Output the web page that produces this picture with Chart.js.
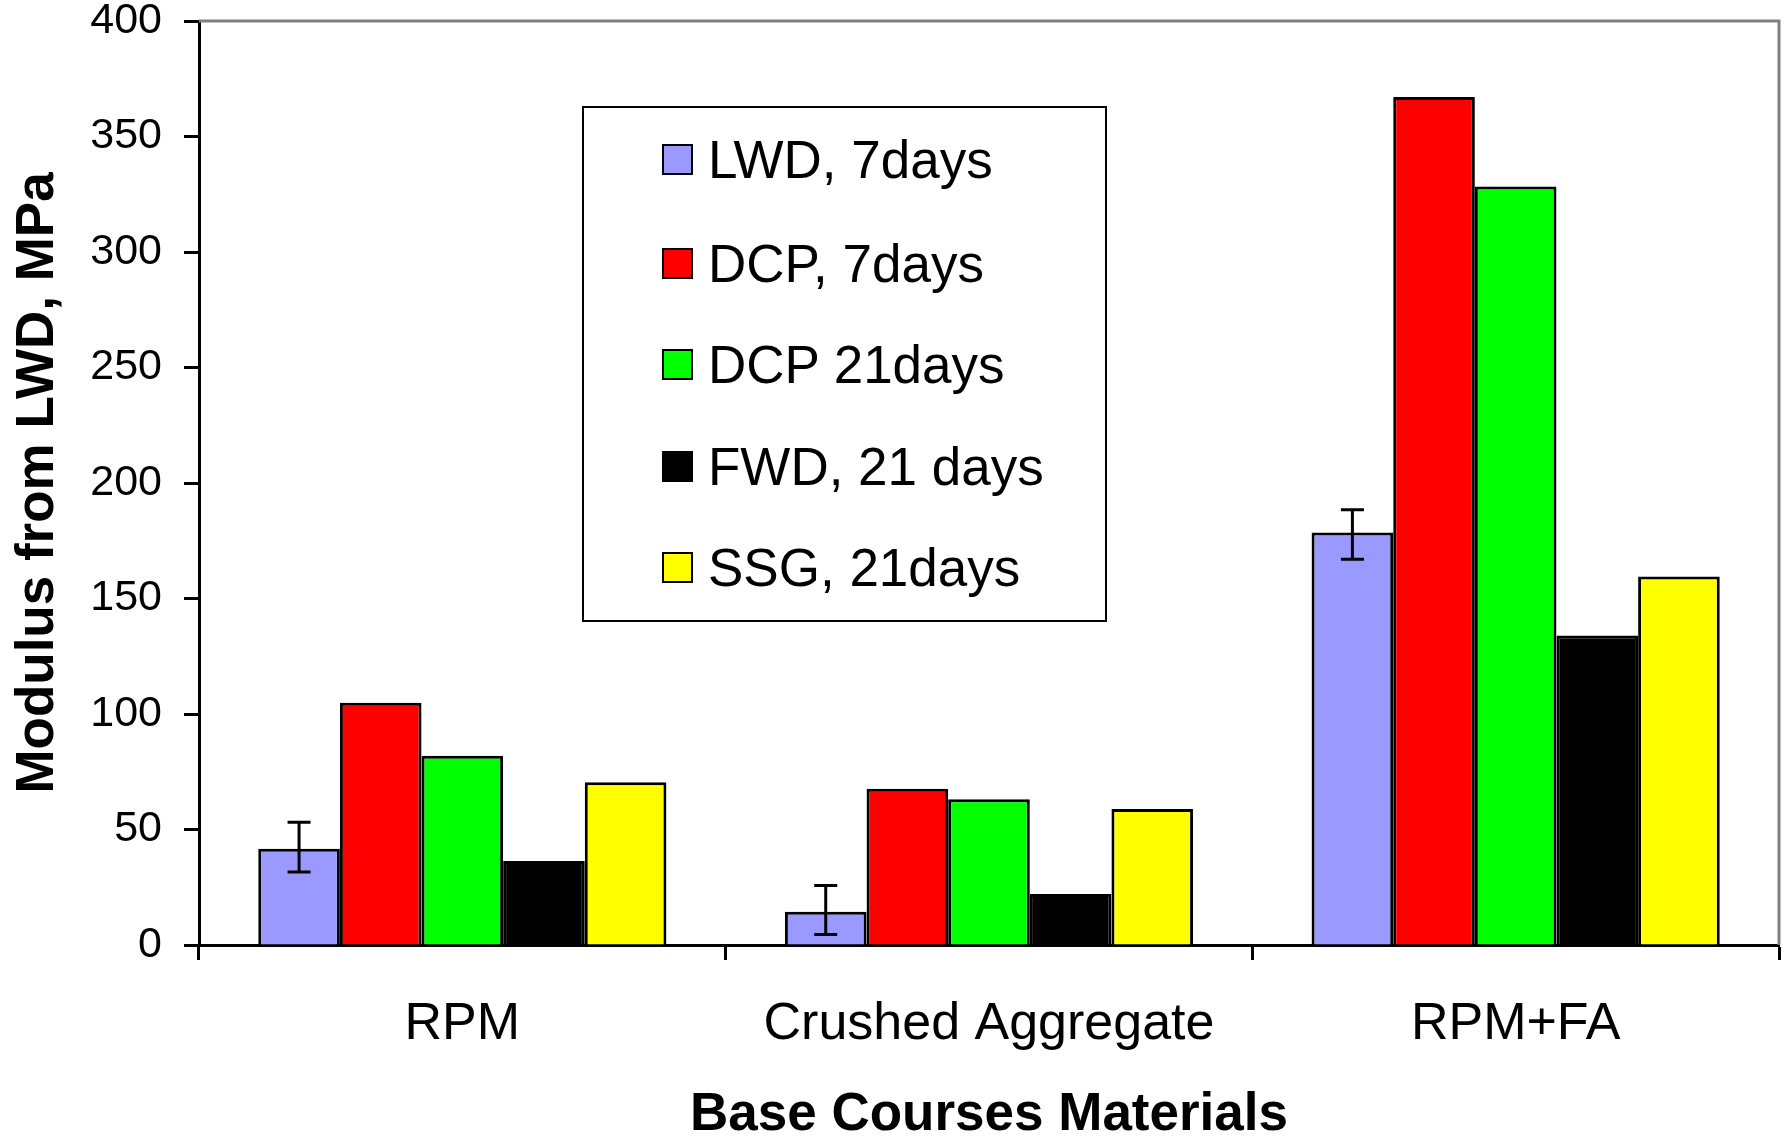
<!DOCTYPE html>
<html>
<head>
<meta charset="utf-8">
<script src="https://cdn.jsdelivr.net/npm/chart.js@4/dist/chart.umd.min.js"></script>
<style>
  html, body { margin: 0; padding: 0; background: #fff; }
  #wrap { position: relative; width: 1789px; height: 1136px; }
  #legend {
    position: absolute; left: 582px; top: 106px; width: 521px; height: 512px;
    border: 2px solid #000; background: #fff; box-sizing: content-box;
    font-family: "Liberation Sans", Arial, sans-serif; font-size: 53px; color: #000;
  }
  .item { position: absolute; left: 78px; height: 60px; display: flex; align-items: center; white-space: nowrap; }
  .sw { width: 27px; height: 27px; border: 2px solid #000; margin-right: 15px; }
</style>
</head>
<body>
<div id="wrap">
  <canvas id="c" width="1789" height="1136"></canvas>
  <div id="legend"></div>
</div>
<script>
const categories = ['RPM', 'Crushed Aggregate', 'RPM+FA'];
const seriesNames = ['LWD, 7days', 'DCP, 7days', 'DCP 21days', 'FWD, 21 days', 'SSG, 21days'];
const lwd7 = [41.7, 14.4, 178.6];
const dcp7 = [104.9, 67.6, 367.1];
const dcp21 = [81.9, 63.1, 328.4];
const fwd21 = [36.4, 22.1, 134.0];
const ssg21 = [70.5, 58.9, 159.5];
const lwd7ErrLow = [31.6, 4.5, 167.0];
const lwd7ErrHigh = [53.1, 25.8, 188.4];
const yTickValues = [0, 50, 100, 150, 200, 250, 300, 350, 400];
const seriesColors = ['#9999FF', '#FF0000', '#00FF00', '#000000', '#FFFF00'];

const seriesValues = [lwd7, dcp7, dcp21, fwd21, ssg21];
const FONT = '"Liberation Sans", Arial, sans-serif';

const datasets = seriesValues.map((vals, i) => ({
  label: seriesNames[i],
  data: vals,
  backgroundColor: seriesColors[i],
  borderColor: '#000',
  borderWidth: 3,
  borderSkipped: 'start',
  barPercentage: 1.0,
  categoryPercentage: 0.775
}));

const frameBorder = {
  id: 'frameBorder',
  beforeDatasetsDraw(chart) {
    const {ctx, chartArea: a} = chart;
    ctx.save();
    ctx.strokeStyle = '#808080';
    ctx.lineWidth = 3;
    ctx.beginPath();
    ctx.moveTo(a.left, a.top);
    ctx.lineTo(a.right, a.top);
    ctx.lineTo(a.right, a.bottom);
    ctx.stroke();
    ctx.restore();
  }
};

const errorBars = {
  id: 'errorBars',
  afterDatasetsDraw(chart) {
    const {ctx} = chart;
    const meta = chart.getDatasetMeta(0);
    const ys = chart.scales.y;
    ctx.save();
    ctx.strokeStyle = '#000';
    ctx.lineWidth = 3;
    meta.data.forEach((bar, i) => {
      const x = bar.x;
      const yH = ys.getPixelForValue(lwd7ErrHigh[i]);
      const yL = ys.getPixelForValue(lwd7ErrLow[i]);
      const cw = 11.5;
      ctx.beginPath();
      ctx.moveTo(x, yH); ctx.lineTo(x, yL);
      ctx.moveTo(x - cw, yH); ctx.lineTo(x + cw, yH);
      ctx.moveTo(x - cw, yL); ctx.lineTo(x + cw, yL);
      ctx.stroke();
    });
    ctx.restore();
  }
};

new Chart(document.getElementById('c'), {
  type: 'bar',
  data: { labels: categories, datasets },
  options: {
    responsive: false,
    animation: false,
    layout: { padding: { top: 21, right: 10, left: 0, bottom: 0 } },
    plugins: { legend: { display: false }, tooltip: { enabled: false } },
    scales: {
      x: {
        z: 1,
        grid: { display: true, drawOnChartArea: false, drawTicks: true, tickLength: 15, tickWidth: 3, tickColor: '#000', offset: true },
        border: { display: true, color: '#000', width: 3 },
        ticks: { color: '#000', font: { family: FONT, size: 52, lineHeight: 1.2 }, padding: 33, maxRotation: 0 },
        title: { display: true, text: 'Base Courses Materials', color: '#000',
                 font: { family: FONT, size: 53, weight: 'bold', lineHeight: 1.0 }, padding: { top: 0, bottom: -6 } },
        afterFit(scale) { scale.height = 191; scale.paddingLeft = 0; scale.paddingRight = 0; }
      },
      y: {
        min: 0, max: 400,
        afterBuildTicks(scale) { scale.ticks = yTickValues.map(v => ({ value: v })); },
        grid: { display: true, drawOnChartArea: false, drawTicks: true, tickLength: 15, tickWidth: 3, tickColor: '#000' },
        border: { display: true, color: '#000', width: 3 },
        ticks: { color: '#000', font: { family: FONT, size: 43, lineHeight: 1.0 }, padding: 22 },
        title: { display: true, text: 'Modulus from LWD, MPa', color: '#000',
                 font: { family: FONT, size: 53, weight: 'bold', lineHeight: 1.0 }, padding: { top: 12, bottom: 0 } },
        afterFit(scale) { scale.width = 199; scale.paddingTop = 0; scale.paddingBottom = 0; }
      }
    }
  },
  plugins: [frameBorder, errorBars]
});

// HTML legend built from the series arrays
const legend = document.getElementById('legend');
const rowCenters = [51, 155, 256, 358, 459];
seriesNames.forEach((name, i) => {
  const item = document.createElement('div');
  item.className = 'item';
  item.style.top = (rowCenters[i] - 30) + 'px';
  const sw = document.createElement('div');
  sw.className = 'sw';
  sw.style.background = seriesColors[i];
  const t = document.createElement('span');
  t.textContent = name;
  item.appendChild(sw);
  item.appendChild(t);
  legend.appendChild(item);
});
</script>
</body>
</html>
